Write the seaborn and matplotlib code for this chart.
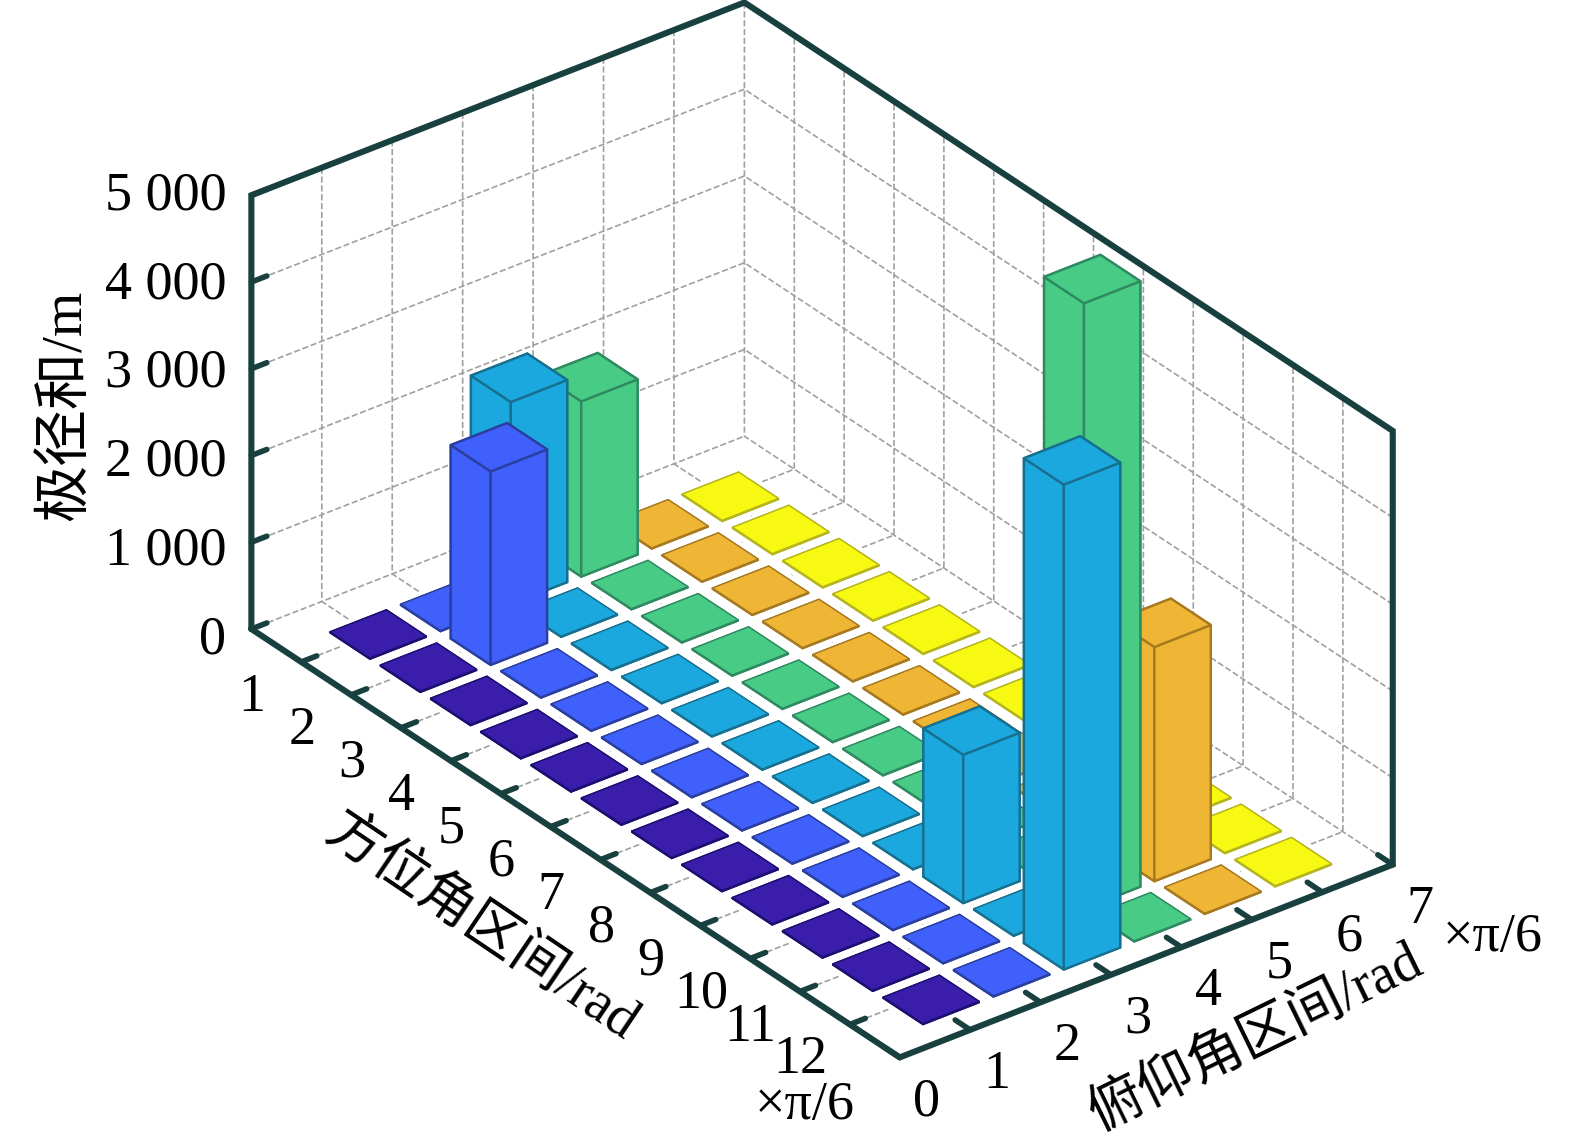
"""
3D bar chart: polar radius sum per azimuth / elevation bin
"""

import numpy as np
import matplotlib.pyplot as plt
import seaborn as sns
from mpl_toolkits.mplot3d import proj3d

GRID = "#a0a0a0"
sns.set_theme(style="white", rc={"grid.color": GRID, "grid.linestyle": "--", "grid.linewidth": 1.2})
FONT = ["Liberation Serif", "Noto Sans CJK SC"]
W, H = 1575, 1139

# ---------------------------------------------------------------------------
# DATA
# ---------------------------------------------------------------------------
azimuth_bins = [1, 2, 3, 4, 5, 6, 7, 8, 9, 10, 11, 12]
elevation_bins = [1, 2, 3, 4, 5, 6]
elevation_ticks = [0, 1, 2, 3, 4, 5, 6, 7]
z_ticks = [0, 1000, 2000, 3000, 4000, 5000]
z_labels = ["0", "1 000", "2 000", "3 000", "4 000", "5 000"]

# rows = azimuth bin, columns = elevation bin
radius_sum = [
    [12, 12, 2330, 2020, 12, 12],
    [12, 2230, 12, 12, 12, 12],
    [12, 12, 12, 12, 12, 12],
    [12, 12, 12, 12, 12, 12],
    [12, 12, 12, 12, 12, 12],
    [12, 12, 12, 12, 12, 12],
    [12, 12, 12, 12, 12, 12],
    [12, 12, 12, 12, 12, 12],
    [12, 12, 12, 12, 12, 12],
    [12, 12, 1710, 12, 12, 12],
    [12, 12, 12, 6980, 2700, 12],
    [12, 12, 5590, 12, 12, 12],
]
face_colors = sns.color_palette(["#3a1dab", "#3f60fb", "#1ba8df", "#48cb84", "#efb535", "#f7f913"])
edge_colors = ["#1c0f70", "#2a3f9f", "#17708f", "#2f8a62", "#a87a20", "#b5b520"]
FRAME = "#17403f"

# ---------------------------------------------------------------------------
# AXES: orthographic box lined up with the reference corners
# ---------------------------------------------------------------------------
fig = plt.figure(figsize=(W / 100, H / 100), dpi=100)
ax = fig.add_axes([158.6 / W, -54.4 / H, 1292 / W, 1292 / H], projection="3d")
ax.set_proj_type("ortho")
ax.view_init(elev=30.55, azim=-37.57)
ax.set_box_aspect((1059, 619.5, 501.6))
ax.computed_zorder = False
ax.patch.set_alpha(0)

# the bars sit slightly off the tick positions in the original
def bar_x(a):
    return a + 0.06 + 0.008 * (a - 1)

def bar_y(e):
    return e + 0.05

# white halo under each cell, then bars back to front
cells = [(a, e) for a in azimuth_bins for e in elevation_bins]
cells.sort(key=lambda c: 64 * c[0] - 54 * c[1])
for a, e in cells:
    ax.bar3d(bar_x(a) - 0.48, bar_y(e) - 0.48, 0, 0.96, 0.96, 1, color="white", shade=False, zorder=1)
for i, (a, e) in enumerate(cells):
    h = radius_sum[a - 1][e - 1]
    ax.bar3d(bar_x(a) - 0.4, bar_y(e) - 0.4, 0, 0.8, 0.8, h,
             color=face_colors[e - 1], edgecolor=edge_colors[e - 1], linewidth=1.7 if h > 100 else 1.0,
             shade=False, zorder=2 + i)

ax.set_xlim(0, 13, view_margin=0)
ax.set_ylim(0, 7, view_margin=0)
ax.set_zlim(0, 5000, view_margin=0)
ax.set_xticks(azimuth_bins)
ax.set_yticks(elevation_ticks)
ax.set_zticks(z_ticks[1:])  # z=0 on the back wall would double the floor's y=7 line
ax.set_xticklabels([])
ax.set_yticklabels([])
ax.set_zticklabels([])
ax.grid(True)
for axis in (ax.xaxis, ax.yaxis, ax.zaxis):
    axis.set_pane_color("white")
    axis.pane.set_edgecolor("none")
    axis.line.set_color("none")
    axis.set_tick_params(colors=(0, 0, 0, 0))

# ---------------------------------------------------------------------------
# FRAME + TICKS
# ---------------------------------------------------------------------------
ax.plot([0, 0], [0, 7], [0, 0], color=GRID, lw=1.2, ls="--", zorder=0.5)
frame_x = [0, 0, 0, 13, 13, 13, 0]
frame_y = [0, 0, 7, 7, 7, 0, 0]
frame_z = [0, 5000, 5000, 5000, 0, 0, 0]
ax.plot(frame_x, frame_y, frame_z, color=FRAME, lw=4.4, zorder=1, solid_joinstyle="miter")

proj = ax.get_proj()
def label3d(x, y, z, s, ha="center"):
    # place the label where the 3D point lands on the 2D view
    px, py, _ = proj3d.proj_transform(x, y, z, proj)
    ax.text2D(px, py, s, transform=ax.transData, family=FONT, fontsize=39, color="black",
              ha=ha, va="center", zorder=500)

for a in azimuth_bins:
    ax.plot([a, a], [0, 0.22], [0, 0], color=FRAME, lw=4, zorder=1)
    label3d(a, -0.7, -190, str(a))
for e in elevation_ticks:
    ax.plot([13, 12.7], [e, e], [0, 0], color=FRAME, lw=4, zorder=1)
    label3d(13.54, e, -310, str(e))
for z, lab in zip(z_ticks, z_labels):
    ax.plot([0, 0], [0, 0.22], [z, z], color=FRAME, lw=4, zorder=1)
    label3d(-0.19, -0.22, z - 130 + z * 0.0238, lab, ha="right")

# ---------------------------------------------------------------------------
# AXIS TITLES
# ---------------------------------------------------------------------------
def put(x, y, s, rot=0, size=41):
    fig.text(x / W, 1 - y / H, s, family=FONT, fontsize=size, color="black",
             rotation=rot, rotation_mode="anchor", ha="center", va="center")

put(66, 405, "极径和/m", 90, 41)
put(481, 928, "方位角区间/rad", -34, 40)
put(1256, 1039, "俯仰角区间/rad", 26, 40)
put(805, 1106, "×π/6", 0, 39)
put(1493, 938, "×π/6", 0, 39)

plt.savefig("out.png", dpi=100)
